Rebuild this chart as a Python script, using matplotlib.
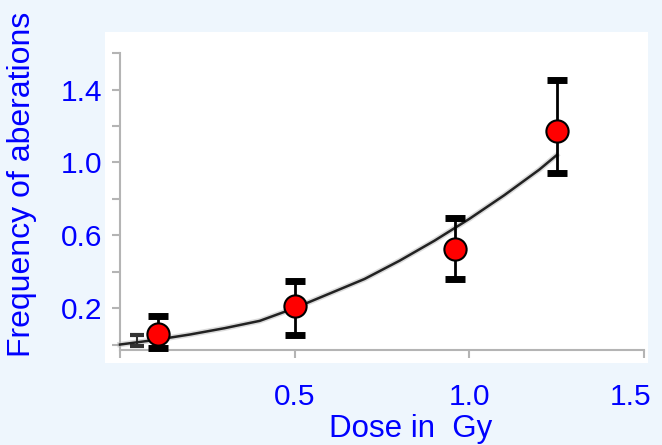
import matplotlib
matplotlib.use("Agg")
import matplotlib.pyplot as plt
import matplotlib.transforms as mtransforms
from matplotlib.patches import Rectangle

# measured aberration frequencies
dose = [0.11, 0.5, 0.96, 1.25]
freq = [0.06, 0.21, 0.525, 1.17]
err_low = [0.08, 0.155, 0.165, 0.23]
err_high = [0.095, 0.14, 0.17, 0.285]

# low-dose control reading
ctrl_dose = [0.05]
ctrl_freq = [0.02]
ctrl_err = [0.03]

# fitted dose-response curve
fit_dose = [0.0, 0.1, 0.2, 0.3, 0.4, 0.5, 0.6, 0.7, 0.8, 0.9, 1.0, 1.1, 1.2, 1.25]
fit_freq = [0.0, 0.025, 0.055, 0.09, 0.13, 0.2, 0.28, 0.36, 0.46, 0.57, 0.69, 0.82, 0.96, 1.04]

x_ticks = [0.0, 0.5, 1.0, 1.5]
x_labels = ["", "0.5", "1.0", "1.5"]
y_ticks = [0.2, 0.6, 1.0, 1.4]
y_labels = ["0.2", "0.6", "1.0", "1.4"]
y_minor = [0.0, 0.4, 0.8, 1.2, 1.6]

BG = "#eef6fd"
BLUE = "#0000ff"
GRID = "#b4b4b4"

plt.rcParams["font.family"] = ["Liberation Sans", "DejaVu Sans"]

fig = plt.figure(figsize=(6.62, 4.45), dpi=100, facecolor=BG)
fig.patches.append(Rectangle((0.1586, 0.1843), 0.820, 0.744, transform=fig.transFigure,
                             facecolor="white", edgecolor="none", zorder=-1))

ax = fig.add_axes([0.1813, 0.2135, 0.7915, 0.667])
ax.set_zorder(2)
ax.set_facecolor("none")

# fitted curve with a soft grey halo
ax.plot(fit_dose, fit_freq, color="#999999", lw=4, alpha=0.35, zorder=2, clip_on=False)
ax.plot(fit_dose, fit_freq, color="#222222", lw=1.8, zorder=3, clip_on=False)

ax.errorbar(ctrl_dose, ctrl_freq, yerr=ctrl_err, fmt="none", ecolor="#333333",
            elinewidth=1.5, capsize=5, capthick=3, zorder=2, clip_on=False)
ax.errorbar(dose, freq, yerr=[err_low, err_high], fmt="none", ecolor="black",
            elinewidth=2, capsize=7.5, capthick=5, zorder=4, clip_on=False)
ax.plot(dose, freq, "o", color="#ff0000", markeredgecolor="black", markersize=16,
        markeredgewidth=1.5, zorder=5, clip_on=False)

ax.set_xlim(0, 1.5)
ax.set_ylim(-0.03, 1.6)

for side in ("top", "right"):
    ax.spines[side].set_visible(False)
for side in ("left", "bottom"):
    ax.spines[side].set_color(GRID)
    ax.spines[side].set_linewidth(1.5)

ax.set_xticks(x_ticks)
ax.set_xticklabels(x_labels)
ax.set_yticks(y_ticks)
ax.set_yticklabels(y_labels)
ax.set_yticks(y_minor, minor=True)

ax.tick_params(axis="x", direction="out", length=6, width=1.5, color=GRID,
               labelsize=21.5, labelcolor=BLUE, pad=18)
ax.tick_params(axis="y", which="both", direction="out", length=6, width=1.5,
               color=GRID, labelsize=21.5, labelcolor=BLUE, pad=7)

# pull the last dose label in from the right edge
last = ax.get_xticklabels()[-1]
last.set_transform(last.get_transform() + mtransforms.ScaledTranslation(-10 / 72, 0, fig.dpi_scale_trans))

fig.text(0.621, 0.018, "Dose in  Gy", color=BLUE, fontsize=22.5,
         ha="center", va="baseline")
fig.text(0.010, 0.5865, "Frequency of aberations", color=BLUE, fontsize=23,
         rotation=90, ha="left", va="center")

fig.savefig("out.png", dpi=100, facecolor=BG)
